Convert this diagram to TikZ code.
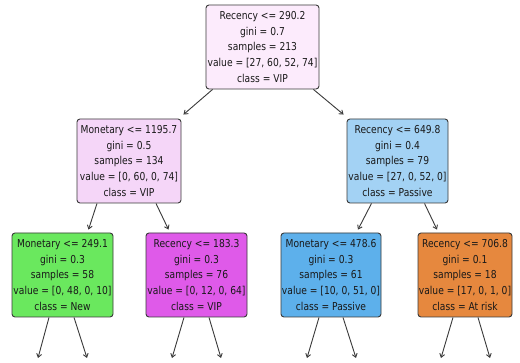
\documentclass[tikz,border=0pt]{standalone}
\usepackage{fontspec}
\setmainfont{DejaVu Sans}[FakeStretch=0.84]
\usetikzlibrary{calc,arrows.meta}
\definecolor{cRoot}{HTML}{FCEBFC}
\definecolor{cLa}{HTML}{F5D6F8}
\definecolor{cLb}{HTML}{A3D2F4}
\definecolor{cGreen}{HTML}{6AE85E}
\definecolor{cMag}{HTML}{DF5AE9}
\definecolor{cBlue}{HTML}{5DB0EB}
\definecolor{cOrange}{HTML}{E6883E}
\definecolor{edgec}{HTML}{3A3A3A}
\tikzset{
  treebox/.style={draw=edgec, line width=0.9pt, rounded corners=3pt, align=center,
    inner sep=0pt, minimum height=84pt,
    font=\fontsize{10.9}{15.7}\selectfont, text=black!90},
  treearrow/.style={draw=edgec, line width=0.9pt, -{Straight Barb[length=3.5pt,width=5pt]}}
}
\begin{document}
\begin{tikzpicture}[x=1pt,y=-1pt]
\useasboundingbox (0,0) rectangle (520,363);
\fill[white] (0,0) rectangle (520,363);

\node[treebox, fill=cRoot, minimum width=113pt] (root) at (262.5,47)
  {Recency <= 290.2\\gini = 0.7\\samples = 213\\value = [27, 60, 52, 74]\\class = VIP};
\node[treebox, fill=cLa, minimum width=104pt] (La) at (129,161)
  {Monetary <= 1195.7\\gini = 0.5\\samples = 134\\value = [0, 60, 0, 74]\\class = VIP};
\node[treebox, fill=cLb, minimum width=101pt] (Lb) at (397.5,161)
  {Recency <= 649.8\\gini = 0.4\\samples = 79\\value = [27, 0, 52, 0]\\class = Passive};
\node[treebox, fill=cGreen, minimum width=101pt] (Ma) at (62.5,275)
  {Monetary <= 249.1\\gini = 0.3\\samples = 58\\value = [0, 48, 0, 10]\\class = New};
\node[treebox, fill=cMag, minimum width=101pt] (Mb) at (196.5,275)
  {Recency <= 183.3\\gini = 0.3\\samples = 76\\value = [0, 12, 0, 64]\\class = VIP};
\node[treebox, fill=cBlue, minimum width=100pt] (Mc) at (331,275)
  {Monetary <= 478.6\\gini = 0.3\\samples = 61\\value = [10, 0, 51, 0]\\class = Passive};
\node[treebox, fill=cOrange, minimum width=94pt] (Md) at (465,275)
  {Recency <= 706.8\\gini = 0.1\\samples = 18\\value = [17, 0, 1, 0]\\class = At risk};

\coordinate (e1) at (38,358);
\coordinate (e2) at (87,358);
\coordinate (e3) at (172,358);
\coordinate (e4) at (221,358);
\coordinate (e5) at (307,358);
\coordinate (e6) at (356,358);
\coordinate (e7) at (441,358);
\coordinate (e8) at (490,358);

\draw[treearrow] ($(root.south west)+(7,0)$) -- ($(La.north east)+(2,-4)$);
\draw[treearrow] ($(root.south east)+(-6,0)$) -- ($(Lb.north west)+(-3,-4)$);
\draw[treearrow] ($(La.south)+(-32,0)$) -- ($(Ma.north)+(26,-3)$);
\draw[treearrow] ($(La.south)+(27,0)$) -- ($(Mb.north)+(-28,-3)$);
\draw[treearrow] ($(Lb.south)+(-26,0)$) -- ($(Mc.north)+(27,-3)$);
\draw[treearrow] ($(Lb.south)+(27,0)$) -- ($(Md.north)+(-28,-3)$);

\draw[treearrow] ($(Ma.south)+(-13.5,0)$) -- (e1);
\draw[treearrow] ($(Ma.south)+(11.5,0)$) -- (e2);
\draw[treearrow] ($(Mb.south)+(-12.5,0)$) -- (e3);
\draw[treearrow] ($(Mb.south)+(12.5,0)$) -- (e4);
\draw[treearrow] ($(Mc.south)+(-12,0)$) -- (e5);
\draw[treearrow] ($(Mc.south)+(12,0)$) -- (e6);
\draw[treearrow] ($(Md.south)+(-12,0)$) -- (e7);
\draw[treearrow] ($(Md.south)+(13,0)$) -- (e8);
\end{tikzpicture}
\end{document}
